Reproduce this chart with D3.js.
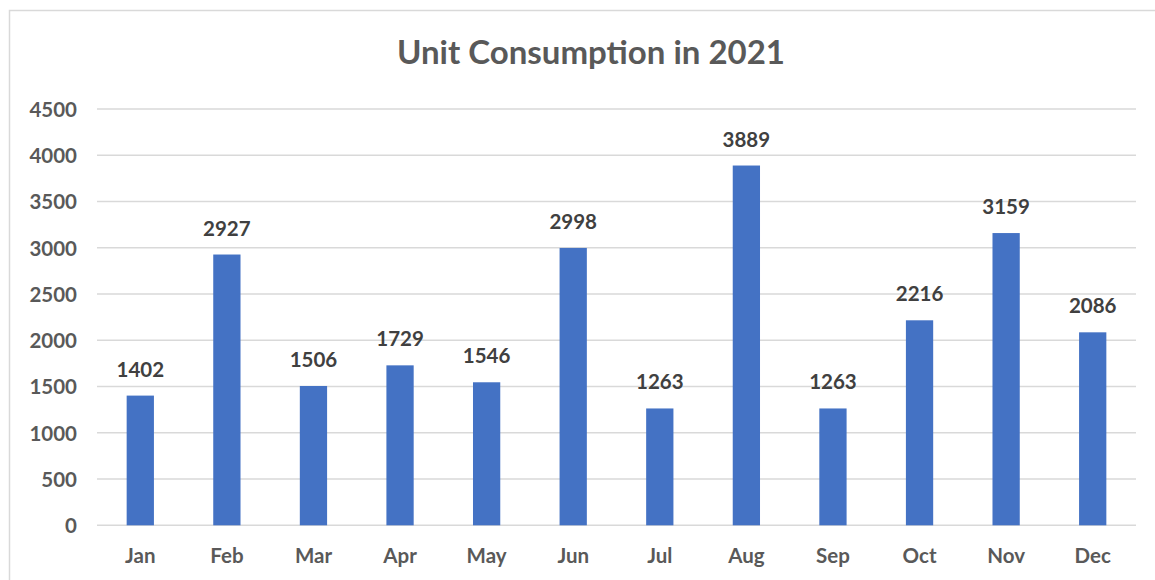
<!DOCTYPE html>
<html>
<head>
<meta charset="utf-8">
<script src="https://cdn.jsdelivr.net/npm/d3@7"></script>
<style>
  html, body { margin: 0; padding: 0; background: #fff; }
  svg { display: block; }
  text { font-family: Lato, "Open Sans", sans-serif; font-weight: bold; }
</style>
</head>
<body>
<svg id="chart" width="1155" height="580"></svg>
<script>
const months = ["Jan","Feb","Mar","Apr","May","Jun","Jul","Aug","Sep","Oct","Nov","Dec"];
const units = [1402, 2927, 1506, 1729, 1546, 2998, 1263, 3889, 1263, 2216, 3159, 2086];
const yTicks = [0, 500, 1000, 1500, 2000, 2500, 3000, 3500, 4000, 4500];
const title = "Unit Consumption in 2021";

const svg = d3.select("#chart");
const W = 1155, H = 580;
const plot = { left: 97, right: 1136, top: 109, bottom: 525.3 };

// chart border
svg.append("rect")
  .attr("x", 9.5).attr("y", 10.5)
  .attr("width", W + 10).attr("height", H + 10)
  .attr("fill", "#fff").attr("stroke", "#d9d9d9").attr("stroke-width", 1.5);

const x = d3.scaleBand().domain(months).range([plot.left, plot.right]).paddingInner(0.685).paddingOuter(0.3425);
const y = d3.scaleLinear().domain([0, 4500]).range([plot.bottom, plot.top]);

// gridlines
svg.append("g").selectAll("line").data(yTicks).join("line")
  .attr("x1", plot.left).attr("x2", plot.right)
  .attr("y1", d => y(d)).attr("y2", d => y(d))
  .attr("stroke", "#d9d9d9").attr("stroke-width", 1.5);

// y axis labels
const yAxis = d3.axisLeft(y).tickValues(yTicks).tickSize(0).tickPadding(0).tickFormat(d3.format("d"));
const gy = svg.append("g").attr("transform", `translate(77,0)`).call(yAxis);
gy.select(".domain").remove();
gy.selectAll("text").attr("fill", "#595959").style("font-size", "20.5px").style("font-family", "Lato, sans-serif").style("font-weight", "bold").attr("dy", "0.36em");

// x axis labels
const xAxis = d3.axisBottom(x).tickSize(0).tickPadding(0);
const gx = svg.append("g").attr("transform", `translate(0,${plot.bottom})`).call(xAxis);
gx.select(".domain").remove();
gx.selectAll("text").attr("fill", "#595959").style("font-size", "20.5px").style("font-family", "Lato, sans-serif").style("font-weight", "bold").attr("y", 38).attr("dy", 0);

// bars
svg.append("g").selectAll("rect").data(units).join("rect")
  .attr("x", (d, i) => x(months[i]))
  .attr("width", x.bandwidth())
  .attr("y", d => y(d))
  .attr("height", d => y(0) - y(d))
  .attr("fill", "#4472C4");

// data labels
svg.append("g").selectAll("text").data(units).join("text")
  .attr("x", (d, i) => x(months[i]) + x.bandwidth() / 2)
  .attr("y", d => y(d) - 19)
  .attr("text-anchor", "middle")
  .attr("fill", "#404040")
  .style("font-size", "20.5px")
  .text(d => d);

// title
svg.append("text")
  .attr("x", 591).attr("y", 64)
  .attr("text-anchor", "middle")
  .attr("fill", "#595959")
  .style("font-size", "33px")
  .text(title);
</script>
</body>
</html>
